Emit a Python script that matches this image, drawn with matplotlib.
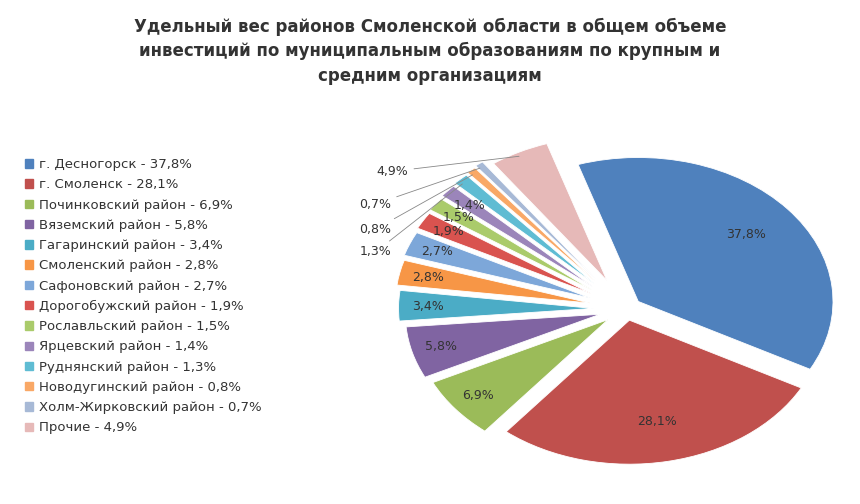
import matplotlib.pyplot as plt
import numpy as np

names = ["г. Десногорск", "г. Смоленск", "Починковский район", "Вяземский район",
         "Гагаринский район", "Смоленский район", "Сафоновский район",
         "Дорогобужский район", "Рославльский район", "Ярцевский район",
         "Руднянский район", "Новодугинский район", "Холм-Жирковский район", "Прочие"]
shares = [37.8, 28.1, 6.9, 5.8, 3.4, 2.8, 2.7, 1.9, 1.5, 1.4, 1.3, 0.8, 0.7, 4.9]
colors = ["#4F81BD", "#C0504D", "#9BBB59", "#8064A2", "#4BACC6", "#F79646",
          "#7DA7D9", "#D9534F", "#AACB6B", "#9B85BA", "#5FBCD3", "#F9A866",
          "#A7B9D6", "#E6B9B8"]
explode = [0.08, 0.08, 0.12, 0.14, 0.17, 0.19, 0.20, 0.21, 0.22, 0.23, 0.24, 0.25, 0.26, 0.22]

fig = plt.figure(figsize=(8.6, 5.04), dpi=100)
fig.patch.set_facecolor("white")
fig.text(0.5, 0.965, "Удельный вес районов Смоленской области в общем объеме\n"
         "инвестиций по муниципальным образованиям по крупным и\n"
         "средним организациям", ha="center", va="top", fontsize=12,
         fontweight="bold", color="#333333", linespacing=1.45)

ax = fig.add_axes([0.40, 0.03, 0.60, 0.70])
labels = [f"{v:.1f}%".replace(".", ",") for v in shares]
wedges, texts = ax.pie(shares, colors=colors, explode=explode, startangle=108,
                       counterclock=False, radius=1.0,
                       wedgeprops=dict(edgecolor="white", linewidth=0.6))
# outside label positions (figure fraction) for the thinnest slices
outside_pos = {13: (0.475, 0.66), 12: (0.455, 0.595), 11: (0.455, 0.545), 10: (0.455, 0.50)}
for i, (w, lab, v) in enumerate(zip(wedges, labels, shares)):
    ang = np.deg2rad((w.theta1 + w.theta2) / 2)
    cx, cy = w.center
    if i in outside_pos:
        ax.annotate(lab, xy=(cx + 0.97 * np.cos(ang), cy + 0.97 * np.sin(ang)),
                    xytext=outside_pos[i], textcoords="figure fraction",
                    ha="right", va="center", fontsize=9, color="#333333",
                    arrowprops=dict(arrowstyle="-", color="#888888", lw=0.6))
    else:
        r = 0.72 if v > 10 else 0.85
        ax.text(cx + r * np.cos(ang), cy + r * np.sin(ang), lab, ha="center",
                va="center", fontsize=9, color="#333333")
ax.set_aspect("auto")
ax.set_xlim(-1.45, 1.2)
ax.set_ylim(-1.25, 1.2)
ax.axis("off")

handles = [plt.Rectangle((0, 0), 1, 1, color=c) for c in colors]
leg_labels = [f"{n} - {l}" for n, l in zip(names, labels)]
fig.legend(handles, leg_labels, loc="upper left", bbox_to_anchor=(0.015, 0.71),
           frameon=False, fontsize=9.5, handlelength=0.6, handleheight=0.6,
           labelspacing=0.55, handletextpad=0.5, labelcolor="#333333")

fig.savefig("out.png", dpi=100)
